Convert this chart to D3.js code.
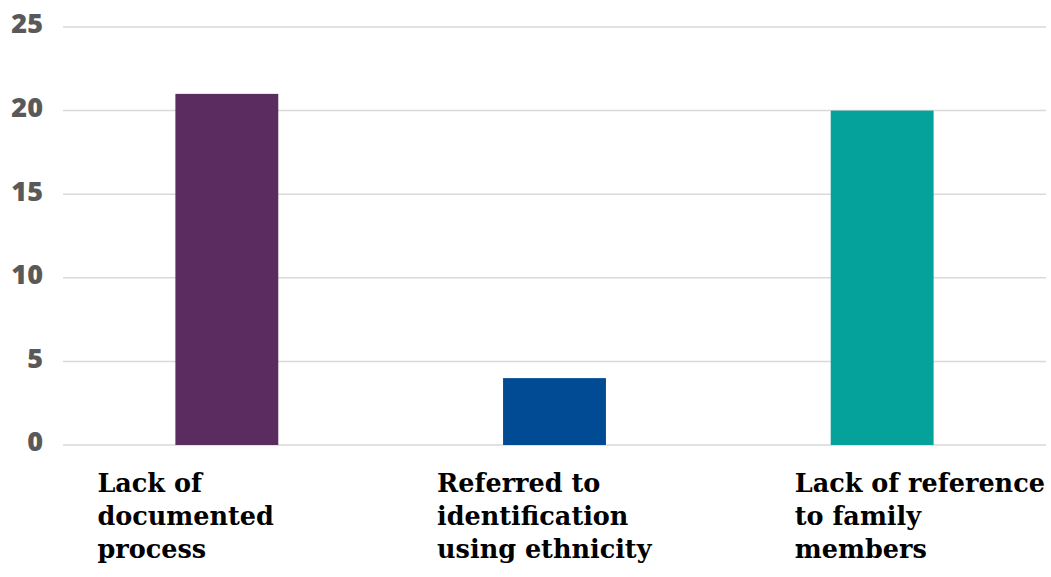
<!DOCTYPE html>
<html><head><meta charset="utf-8">
<script src="https://cdn.jsdelivr.net/npm/d3@7"></script>
<style>body{margin:0;background:#fff}svg{display:block}</style>
</head><body>
<svg id="c" width="1051" height="577"></svg>
<script>
const categories = ["Lack of documented process", "Referred to identification using ethnicity", "Lack of reference to family members"];
const labelLines = [["Lack of","documented","process"],["Referred to","identification","using ethnicity"],["Lack of reference","to family","members"]];
const values = [21, 4, 20];
const colors = ["#5B2C5F", "#004B93", "#05A29B"];
const yTicks = [0, 5, 10, 15, 20, 25];

(function(){
const svg = d3.select("#c");
const mLeft = 63, mRight = 1046, mTop = 27, mBottom = 445;
const x = d3.scaleBand().domain(categories).range([mLeft, mRight]).paddingInner(0.686).paddingOuter(0.343);
const y = d3.scaleLinear().domain([0, 25]).range([mBottom, mTop]);

svg.append("g").selectAll("line").data(yTicks).join("line")
  .attr("x1", mLeft).attr("x2", mRight)
  .attr("y1", d => y(d)).attr("y2", d => y(d))
  .attr("stroke", "#d9d9d9").attr("stroke-width", 1.5);

const yAxis = d3.axisLeft(y).tickValues(yTicks).tickSize(0).tickPadding(0);
const ga = svg.append("g").attr("transform", `translate(43,0)`).call(yAxis);
ga.select(".domain").remove();
ga.selectAll("text").attr("font-family", "'Open Sans', Lato, sans-serif").attr("font-weight", 800)
  .attr("font-size", 27).attr("fill", "#595959").attr("dy", "0.22em");

svg.append("g").selectAll("rect").data(categories).join("rect")
  .attr("x", d => x(d)).attr("width", x.bandwidth())
  .attr("y", (d, i) => y(values[i])).attr("height", (d, i) => y(0) - y(values[i]))
  .attr("fill", (d, i) => colors[i]);

const labelOffset = [-78, -66, -36];
const lg = svg.append("g");
categories.forEach((c, i) => {
  const t = lg.append("text")
    .attr("font-family", "'DejaVu Serif', serif").attr("font-weight", "bold")
    .attr("font-size", 25.5).attr("fill", "#000");
  labelLines[i].forEach((ln, j) => {
    t.append("tspan").attr("x", x(c) + labelOffset[i]).attr("y", 492 + j * 33).text(ln);
  });
});
})();
</script>
</body></html>
